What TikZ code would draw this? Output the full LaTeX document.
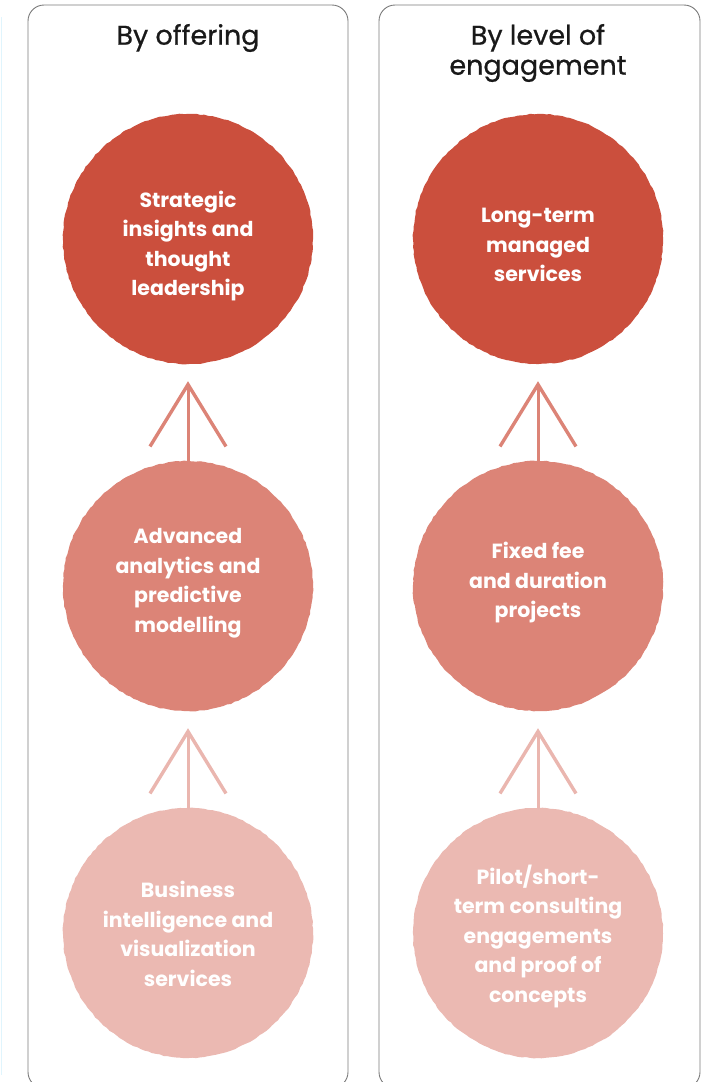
\documentclass[tikz,border=0pt]{standalone}
\usepackage{fontspec}
\setmainfont{Poppins}
\newfontfamily\headfont[FakeBold=0.7]{Poppins}
\usetikzlibrary{arrows.meta,decorations.pathmorphing}

\definecolor{topred}{HTML}{CB4F3D}
\definecolor{midred}{HTML}{DC8477}
\definecolor{lowred}{HTML}{EBB9B2}
\definecolor{framegray}{HTML}{7A7A7A}

\tikzset{
	blob/.style={circle, minimum size=250pt, inner sep=0pt,
		decorate, decoration={random steps,segment length=4pt,amplitude=0.5pt}},
	blobtext/.style={text=white, align=center, font=\fontsize{20.5}{29.5}\selectfont\bfseries},
	panel/.style={draw=framegray, line width=0.9pt, rounded corners=16pt},
	heading/.style={align=center, text=black!90, font=\headfont\fontsize{27}{30}\selectfont},
	uparrow/.style={line width=3pt, line cap=round, -{Straight Barb[length=62pt,width=76pt,line width=3.4pt]}},
}

\begin{document}
\begin{tikzpicture}[x=1pt,y=-1pt]
	\clip (0,0) rectangle (713,1082);
	\draw[cyan!12, line width=1pt] (1,17) -- (1,1075);
	
	% the two columns
	\draw[panel] (28,5) rectangle (348,1088);
	\draw[panel] (379,5) rectangle (700,1088);
	\node[heading] (offer) at (188,38) {By offering};
	\node[heading] (engage) at (538,53) {By level of\\engagement};
	
	% by offering
	\node[blob, fill=topred] (insight) at (188,239) {};
	\node[blob, fill=midred] (analytics) at (188,586) {};
	\node[blob, fill=lowred] (bi) at (188,933) {};
	\node[blobtext] (insighttext) at (188,246) {Strategic\\insights and\\thought\\leadership};
	\node[blobtext] (analyticstext) at (188,583) {Advanced\\analytics and\\predictive\\modelling};
	\node[blobtext] (bitext) at (188,934) {Business\\intelligence and\\visualization\\services};
	
	% by level of engagement
	\node[blob, fill=topred] (managed) at (538,239) {};
	\node[blob, fill=midred] (fixed) at (538,586) {};
	\node[blob, fill=lowred] (pilot) at (538,933) {};
	\node[blobtext] (managedtext) at (538,245) {Long-term\\managed\\services};
	\node[blobtext] (fixedtext) at (538,583) {Fixed fee\\and duration\\projects};
	\node[blobtext] (pilottext) at (538,936) {Pilot/short-\\term consulting\\engagements\\and proof of\\concepts};
	
	\draw[uparrow, midred] (analytics.north) -- ([yshift=-17pt]insight.south);
	\draw[uparrow, lowred!95!midred] (bi.north) -- ([yshift=-17pt]analytics.south);
	\draw[uparrow, midred] (fixed.north) -- ([yshift=-17pt]managed.south);
	\draw[uparrow, lowred!95!midred] (pilot.north) -- ([yshift=-17pt]fixed.south);
\end{tikzpicture}
\end{document}
